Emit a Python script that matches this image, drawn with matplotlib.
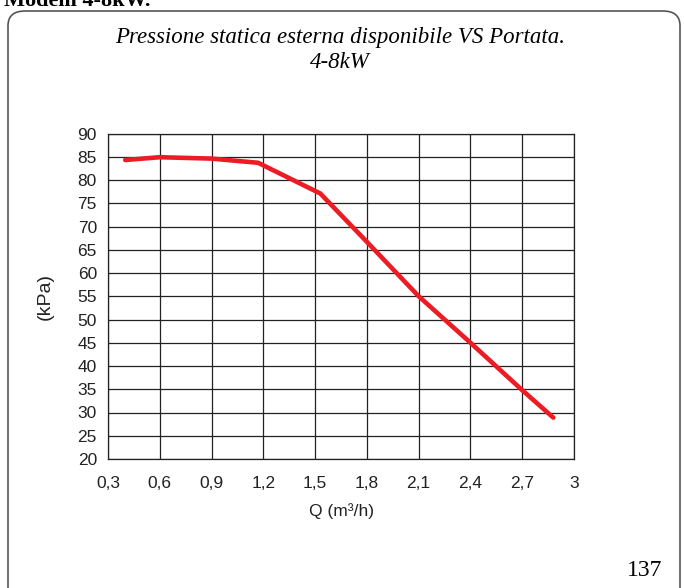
import numpy as np
import matplotlib.pyplot as plt
from matplotlib.patches import FancyBboxPatch
from matplotlib.ticker import MultipleLocator, FuncFormatter

# portata (m3/h) e pressione statica esterna disponibile (kPa)
portata = [0.40, 0.60, 0.90, 1.17, 1.53, 1.80, 2.10, 2.40, 2.70, 2.88]
pressione = [84.3, 84.9, 84.6, 83.7, 77.1, 66.7, 55.0, 45.0, 34.8, 28.9]

titolo = ['Pressione statica esterna disponibile VS Portata.', '4-8kW']
pagina = '137'

W, H = 684, 588
fig = plt.figure(figsize=(W / 100, H / 100), dpi=100)

# cornice arrotondata della pagina
frame = FancyBboxPatch((8 / W, -0.05), (672 / W), (H - 11) / H + 0.05,
                       boxstyle='round,pad=0,rounding_size=0.025',
                       transform=fig.transFigure, fill=False,
                       edgecolor='#555555', linewidth=1.2)
fig.patches.append(frame)

# intestazione in cima alla pagina
fig.text(4 / W, 1 - 6 / H, 'Modelli 4-8kW.', family='Liberation Serif',
         fontweight='bold', fontsize=16, va='baseline', ha='left')

fig.text(340 / W, 1 - 37 / H, titolo[0], family='Liberation Serif',
         style='italic', fontsize=16.5, ha='center', va='center')
fig.text(340 / W, 1 - 62 / H, titolo[1], family='Liberation Serif',
         style='italic', fontsize=16.5, ha='center', va='center')

ax = fig.add_axes([108 / W, (H - 459) / H, (574 - 108) / W, (459 - 133.5) / H])
ax.plot(portata, pressione, color='#ed1c24', linewidth=3.3,
        solid_capstyle='round', zorder=3)

ax.set_xlim(0.3, 3.0)
ax.set_ylim(20, 90)
ax.xaxis.set_major_locator(MultipleLocator(0.3))
ax.yaxis.set_major_locator(MultipleLocator(5))
ax.xaxis.set_major_formatter(FuncFormatter(lambda v, p: f'{v:.1f}'.replace('.', ',').replace('3,0', '3')))
ax.grid(True, color='#222222', linewidth=0.9)
ax.set_axisbelow(True)
for s in ax.spines.values():
    s.set_color('#222222')
    s.set_linewidth(0.9)
ax.tick_params(length=0, labelsize=12.5)
ax.tick_params(axis='x', pad=12)
ax.tick_params(axis='y', pad=8)
for lab in ax.get_xticklabels() + ax.get_yticklabels():
    lab.set_family('Liberation Sans')
    lab.set_color('#222222')
ax.set_xlabel('Q (m³/h)', family='Liberation Sans', fontsize=12.5, labelpad=9,
              color='#222222')
ax.set_ylabel('(kPa)', family='Liberation Sans', fontsize=14, labelpad=17,
              color='#222222')

fig.text(662 / W, 1 - 570 / H, pagina, family='Liberation Serif',
         fontsize=17, ha='right', va='center')

fig.savefig('out.png', dpi=100)
